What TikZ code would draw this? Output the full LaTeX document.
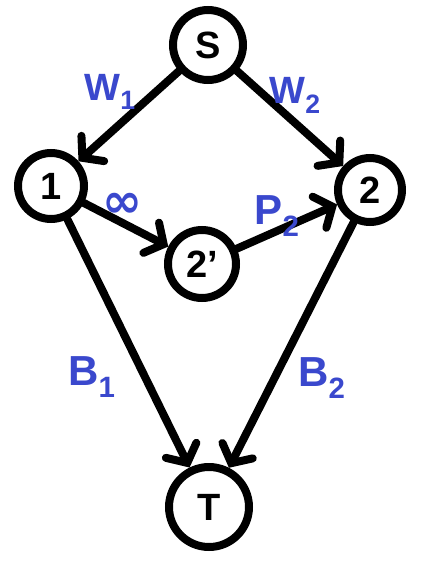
\documentclass[tikz,border=0pt]{standalone}
\usepackage{fontspec}
\setmainfont{Liberation Sans}
\newfontfamily\symfont{DejaVu Sans}
\usetikzlibrary{arrows.meta}
\definecolor{lblue}{RGB}{58,72,205}
\begin{document}
\begin{tikzpicture}[x=1pt,y=-1pt,
  vert/.style={circle,draw=black,line width=8pt,inner sep=0pt,font=\fontsize{38}{38}\selectfont\bfseries},
  edge/.style={line width=8pt,line cap=round,-{Straight Barb[length=14pt,width=34pt,line cap=round]}},
  lab/.style={text=lblue,font=\fontsize{42}{42}\selectfont\bfseries,inner sep=0pt}]
\useasboundingbox (0,0) rectangle (422,563);
\node[vert,minimum size=70pt] (S) at (208,45) {S};
\node[vert,minimum size=66pt] (n1) at (51,186) {1};
\node[vert,minimum size=64pt] (n2) at (370,190) {2};
\node[vert,minimum size=68pt] (n2p) at (202,264) {2'};
\node[vert,minimum size=80pt] (T) at (209,507) {T};
\draw[edge] (S) -- (n1);
\draw[edge] (S) -- (n2);
\draw[edge] (n1) -- (n2p);
\draw[edge] (n2p) -- (n2);
\draw[edge] (n1) -- (T);
\draw[edge] (n2) -- (T);
\node[lab,font=\fontsize{38}{38}\selectfont\bfseries] (lw1) at (110,92) {W\textsubscript{1}};
\node[lab,font=\fontsize{38}{38}\selectfont\bfseries] (lw2) at (295,95) {W\textsubscript{2}};
\node[lab,font=\fontsize{48}{48}\selectfont\symfont\bfseries] (linf) at (122,205) {∞};
\node[lab] (lp2) at (277,216) {P\textsubscript{2}};
\node[lab] (lb1) at (92,377) {B\textsubscript{1}};
\node[lab] (lb2) at (322,378) {B\textsubscript{2}};
\end{tikzpicture}
\end{document}
